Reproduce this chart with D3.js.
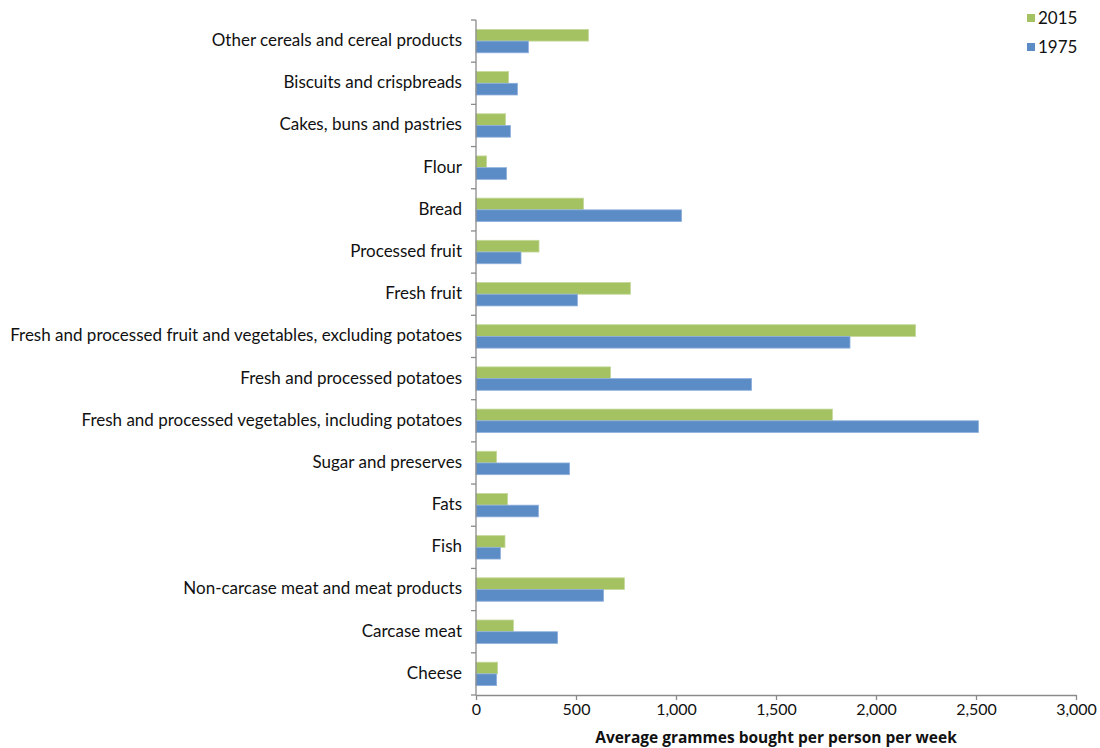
<!DOCTYPE html>
<html>
<head>
<meta charset="utf-8">
<script src="https://cdn.jsdelivr.net/npm/d3@7"></script>
<style>
  html, body { margin: 0; padding: 0; background: #fff; }
  svg { display: block; }
</style>
</head>
<body>
<svg id="chart" width="1100" height="748"></svg>
<script>
// Food groups, listed top to bottom
const categories = [
  "Other cereals and cereal products",
  "Biscuits and crispbreads",
  "Cakes, buns and pastries",
  "Flour",
  "Bread",
  "Processed fruit",
  "Fresh fruit",
  "Fresh and processed fruit and vegetables, excluding potatoes",
  "Fresh and processed potatoes",
  "Fresh and processed vegetables, including potatoes",
  "Sugar and preserves",
  "Fats",
  "Fish",
  "Non-carcase meat and meat products",
  "Carcase meat",
  "Cheese"
];
// Average grammes bought per person per week
const values2015 = [562, 163, 148, 53, 538, 315, 772, 2198, 673, 1782, 103, 158, 145, 742, 187, 108];
const values1975 = [262, 207, 172, 153, 1028, 225, 507, 1870, 1378, 2512, 468, 312, 122, 638, 408, 103];
const seriesNames = ["2015", "1975"];
const xTicks = [0, 500, 1000, 1500, 2000, 2500, 3000];
const xTitle = "Average grammes bought per person per week";

const colors = { "2015": "#a5c263", "1975": "#5b8cc5" };
const strokes = { "2015": "#c4d99a", "1975": "#8fb0dc" };

const svg = d3.select("#chart");
const plotLeft = 476, plotRight = 1076, plotTop = 20, plotBottom = 695;
const labelFont = "'Lato', 'Open Sans', sans-serif";

const x = d3.scaleLinear().domain([0, 3000]).range([plotLeft, plotRight]);
const y = d3.scaleBand().domain(categories).range([plotTop, plotBottom]).paddingInner(0.445).paddingOuter(0.2225);
const ySub = d3.scaleBand().domain(seriesNames).range([0, y.bandwidth()]);

const rows = categories.map((c, i) => ({ cat: c, "2015": values2015[i], "1975": values1975[i] }));

// Bars
const g = svg.append("g");
rows.forEach(r => {
  seriesNames.forEach(s => {
    g.append("rect")
      .attr("x", x(0))
      .attr("y", y(r.cat) + ySub(s))
      .attr("width", x(r[s]) - x(0))
      .attr("height", ySub.bandwidth())
      .attr("fill", colors[s])
      .attr("stroke", strokes[s])
      .attr("stroke-width", 0.8);
  });
});

const axisColor = "#8a8a8a";

// Category axis: line with ticks on band boundaries
const yAxisG = svg.append("g");
yAxisG.append("line")
  .attr("x1", plotLeft).attr("x2", plotLeft).attr("y1", plotTop).attr("y2", plotBottom)
  .attr("stroke", axisColor).attr("stroke-width", 1.3);
const bandStep = (plotBottom - plotTop) / categories.length;
d3.range(categories.length + 1).forEach(i => {
  yAxisG.append("line")
    .attr("x1", plotLeft - 5).attr("x2", plotLeft)
    .attr("y1", plotTop + i * bandStep).attr("y2", plotTop + i * bandStep)
    .attr("stroke", axisColor).attr("stroke-width", 1.3);
});
yAxisG.selectAll("text.cat").data(categories).enter().append("text")
  .attr("class", "cat")
  .attr("x", 462)
  .attr("y", d => y(d) + y.bandwidth() / 2 - 1)
  .attr("dy", "0.35em")
  .attr("text-anchor", "end")
  .attr("font-family", labelFont)
  .attr("font-size", "17px")
  .attr("fill", "#111")
  .text(d => d);

// Value axis
const xAxis = d3.axisBottom(x)
  .tickValues(xTicks)
  .tickSize(5)
  .tickSizeOuter(0)
  .tickFormat(d3.format(","));
const xAxisG = svg.append("g")
  .attr("transform", `translate(0,${plotBottom})`)
  .call(xAxis);
xAxisG.select(".domain").attr("stroke", axisColor).attr("stroke-width", 1.3);
xAxisG.selectAll(".tick line").attr("stroke", axisColor).attr("stroke-width", 1.3);
xAxisG.selectAll(".tick text")
  .attr("y", 9)
  .attr("font-family", labelFont)
  .attr("font-size", "16px")
  .attr("fill", "#111");

svg.append("text")
  .attr("x", 776)
  .attr("y", 743)
  .attr("text-anchor", "middle")
  .attr("font-family", "'Open Sans', sans-serif")
  .attr("font-weight", "bold")
  .attr("font-size", "15.5px")
  .attr("fill", "#111")
  .text(xTitle);

// Legend
const legend = svg.append("g");
seriesNames.forEach((s, i) => {
  const ly = 18 + i * 29;
  legend.append("rect")
    .attr("x", 1027).attr("y", ly - 4)
    .attr("width", 8).attr("height", 8)
    .attr("fill", colors[s]);
  legend.append("text")
    .attr("x", 1038).attr("y", ly)
    .attr("dy", "0.35em")
    .attr("font-family", labelFont)
    .attr("font-size", "17px")
    .attr("fill", "#111")
    .text(s);
});
</script>
</body>
</html>
